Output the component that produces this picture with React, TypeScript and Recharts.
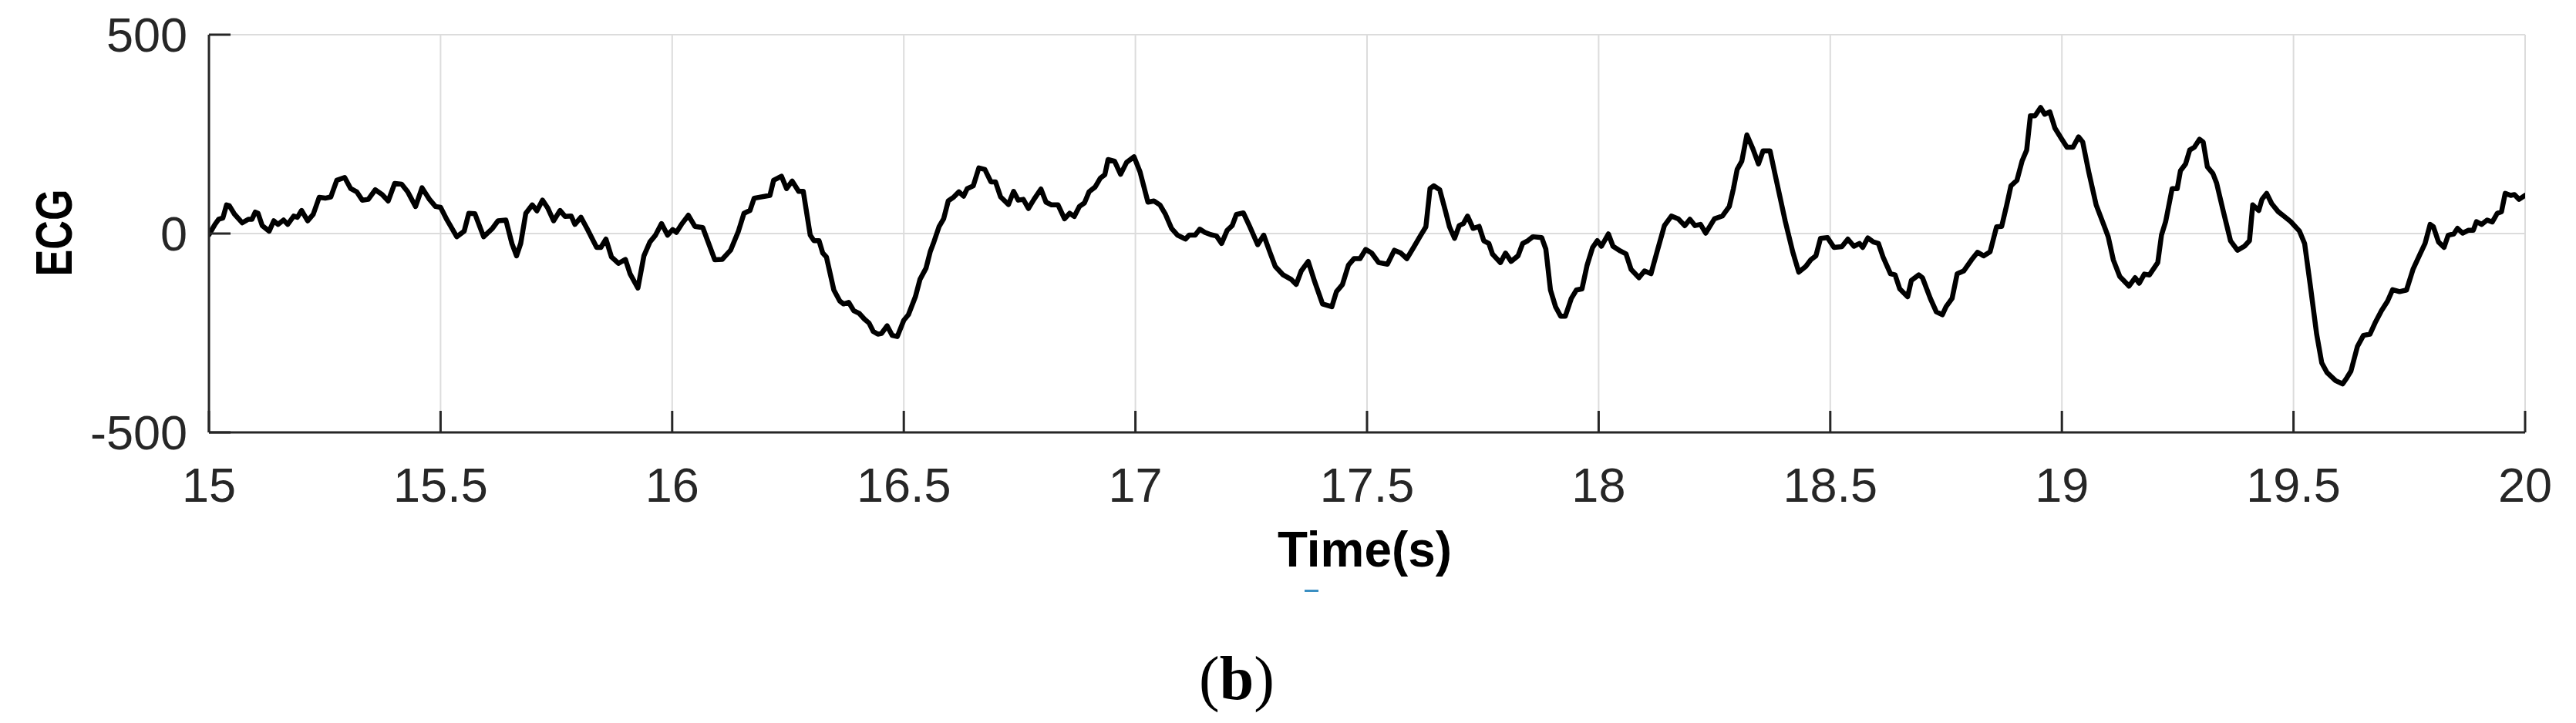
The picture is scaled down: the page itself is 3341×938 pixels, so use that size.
import React from 'react';
import { LineChart, Line, XAxis, YAxis, CartesianGrid, Label } from 'recharts';

// ---- axis / text content ----
const X_TICKS = [15, 15.5, 16, 16.5, 17, 17.5, 18, 18.5, 19, 19.5, 20];
const Y_TICKS = [-500, 0, 500];
const X_LABEL = 'Time(s)';
const Y_LABEL = 'ECG';
const PANEL_LETTER = 'b';

// ---- ECG trace: [time (s), ECG] ----
const ecg15to16: [number, number][] = [
  [15.0, -3], [15.013, 23], [15.021, 36], [15.03, 39], [15.038, 72], [15.044, 70], [15.055, 49], [15.072, 27],
  [15.085, 36], [15.093, 36], [15.1, 54], [15.106, 51], [15.115, 20], [15.13, 6], [15.14, 32], [15.149, 23],
  [15.161, 34], [15.17, 23], [15.183, 44], [15.191, 41], [15.2, 58], [15.213, 32], [15.225, 48], [15.238, 91],
  [15.251, 89], [15.263, 92], [15.276, 134], [15.293, 141], [15.306, 113], [15.319, 105], [15.331, 84], [15.344, 86],
  [15.359, 110], [15.374, 98], [15.387, 82], [15.401, 126], [15.416, 124], [15.429, 105], [15.446, 68], [15.46, 115],
  [15.476, 86], [15.489, 68], [15.5, 66], [15.514, 34], [15.535, -8], [15.551, 6], [15.561, 51], [15.574, 50],
  [15.593, -8], [15.612, 13], [15.624, 32], [15.641, 34], [15.654, -25], [15.664, -56], [15.673, -25], [15.684, 51],
  [15.698, 72], [15.708, 57], [15.72, 84], [15.731, 65], [15.744, 32], [15.758, 58], [15.769, 43], [15.782, 44],
  [15.79, 23], [15.803, 41], [15.816, 13], [15.837, -35], [15.846, -35], [15.857, -14], [15.869, -59], [15.884, -75],
  [15.899, -65], [15.909, -101], [15.926, -137], [15.939, -56], [15.952, -21], [15.964, -4], [15.977, 25], [15.99, -4],
];

const ecg16to17: [number, number][] = [
  [16.001, 10], [16.009, 3], [16.02, 23], [16.035, 46], [16.049, 18], [16.066, 15], [16.092, -66], [16.108, -65],
  [16.126, -42], [16.143, 6], [16.155, 51], [16.168, 58], [16.177, 89], [16.211, 96], [16.219, 134], [16.236, 144],
  [16.247, 113], [16.259, 132], [16.273, 106], [16.283, 106], [16.298, -4], [16.306, -18], [16.317, -18], [16.325, -49],
  [16.333, -59], [16.349, -142], [16.362, -170], [16.37, -177], [16.381, -173], [16.392, -194], [16.404, -201], [16.415, -215],
  [16.425, -225], [16.434, -246], [16.444, -253], [16.452, -251], [16.464, -232], [16.475, -256], [16.486, -259], [16.5, -218],
  [16.51, -204], [16.525, -159], [16.535, -115], [16.548, -87], [16.557, -46], [16.565, -21], [16.576, 17], [16.586, 37],
  [16.596, 82], [16.608, 92], [16.619, 105], [16.629, 94], [16.637, 113], [16.65, 120], [16.662, 165], [16.675, 161],
  [16.688, 130], [16.698, 130], [16.709, 92], [16.726, 73], [16.737, 106], [16.747, 84], [16.758, 86], [16.769, 63],
  [16.781, 86], [16.796, 112], [16.807, 79], [16.819, 72], [16.833, 72], [16.847, 37], [16.858, 51], [16.868, 43],
  [16.879, 68], [16.89, 77], [16.9, 105], [16.913, 117], [16.924, 139], [16.934, 148], [16.941, 186], [16.955, 182],
  [16.968, 149], [16.981, 179], [16.997, 193],
];

const ecg17to18: [number, number][] = [
  [17.01, 155], [17.027, 79], [17.04, 82], [17.053, 72], [17.065, 48], [17.078, 13], [17.091, -4], [17.108, -14],
  [17.116, -4], [17.129, -4], [17.139, 11], [17.15, 3], [17.163, -3], [17.175, -6], [17.186, -25], [17.198, 8],
  [17.209, 20], [17.218, 48], [17.233, 52], [17.247, 17], [17.264, -28], [17.277, -4], [17.29, -46], [17.302, -83],
  [17.319, -104], [17.336, -115], [17.347, -128], [17.358, -94], [17.373, -70], [17.387, -121], [17.404, -177], [17.424, -184],
  [17.434, -146], [17.447, -128], [17.46, -79], [17.472, -63], [17.485, -63], [17.497, -40], [17.51, -49], [17.525, -73],
  [17.544, -77], [17.559, -42], [17.573, -49], [17.586, -63], [17.602, -32], [17.614, -8], [17.627, 17], [17.636, 113],
  [17.644, 120], [17.657, 110], [17.669, 58], [17.678, 17], [17.689, -12], [17.699, 20], [17.708, 25], [17.717, 44],
  [17.729, 13], [17.742, 18], [17.752, -18], [17.763, -25], [17.771, -52], [17.788, -73], [17.799, -49], [17.811, -70],
  [17.826, -56], [17.836, -25], [17.847, -18], [17.858, -8], [17.877, -10], [17.886, -39], [17.896, -142], [17.907, -184],
  [17.918, -208], [17.928, -208], [17.941, -163], [17.952, -142], [17.964, -139], [17.975, -80], [17.987, -35], [17.997, -18],
];

const ecg18to19: [number, number][] = [
  [18.006, -32], [18.021, -1], [18.031, -32], [18.047, -44], [18.059, -51], [18.07, -90], [18.087, -111], [18.099, -94],
  [18.113, -101], [18.127, -42], [18.142, 20], [18.157, 44], [18.172, 37], [18.186, 20], [18.197, 36], [18.208, 20],
  [18.22, 23], [18.231, 1], [18.25, 37], [18.267, 44], [18.282, 68], [18.291, 113], [18.299, 161], [18.309, 182],
  [18.32, 248], [18.333, 213], [18.345, 175], [18.355, 208], [18.37, 208], [18.381, 148], [18.403, 30], [18.419, -46],
  [18.432, -97], [18.447, -83], [18.458, -66], [18.469, -56], [18.479, -12], [18.494, -10], [18.508, -35], [18.525, -33],
  [18.538, -14], [18.551, -32], [18.563, -25], [18.57, -35], [18.581, -11], [18.593, -21], [18.604, -25], [18.614, -59],
  [18.63, -101], [18.64, -104], [18.65, -139], [18.667, -159], [18.675, -118], [18.691, -104], [18.699, -111], [18.716, -163],
  [18.729, -197], [18.742, -204], [18.75, -184], [18.763, -163], [18.774, -101], [18.788, -94], [18.805, -66], [18.818, -47],
  [18.831, -56], [18.845, -46], [18.859, 17], [18.87, 18], [18.881, 72], [18.89, 120], [18.903, 134], [18.914, 182],
  [18.924, 210], [18.932, 296], [18.942, 296], [18.954, 317], [18.963, 300], [18.974, 306], [18.985, 265],
];

const ecg19to20: [number, number][] = [
  [19.0, 237], [19.011, 217], [19.024, 217], [19.036, 243], [19.045, 230], [19.058, 155], [19.074, 72], [19.091, 20],
  [19.1, -8], [19.111, -66], [19.125, -108], [19.145, -132], [19.158, -111], [19.167, -125], [19.178, -102], [19.189, -104],
  [19.207, -73], [19.215, -4], [19.224, 30], [19.238, 113], [19.249, 113], [19.256, 158], [19.267, 175], [19.276, 210],
  [19.286, 217], [19.297, 237], [19.305, 230], [19.314, 168], [19.326, 151], [19.334, 127], [19.348, 58], [19.364, -18],
  [19.379, -42], [19.394, -32], [19.405, -18], [19.412, 72], [19.425, 58], [19.432, 86], [19.442, 101], [19.453, 75],
  [19.467, 55], [19.479, 44], [19.494, 30], [19.513, 6], [19.524, -25], [19.536, -128], [19.55, -253], [19.561, -325],
  [19.572, -349], [19.591, -370], [19.606, -378], [19.615, -363], [19.624, -346], [19.638, -284], [19.651, -256], [19.665, -253],
  [19.676, -225], [19.69, -194], [19.703, -170], [19.714, -141], [19.729, -146], [19.744, -142], [19.758, -90], [19.773, -52],
  [19.784, -25], [19.795, 23], [19.802, 17], [19.813, -21], [19.825, -35], [19.834, -4], [19.846, -1], [19.854, 13],
  [19.865, 1], [19.877, 8], [19.888, 8], [19.895, 30], [19.906, 23], [19.918, 34], [19.929, 29], [19.94, 51],
  [19.949, 55], [19.957, 101], [19.969, 96], [19.977, 98], [19.987, 86], [20.0, 96],
];

const data = [...ecg15to16, ...ecg16to17, ...ecg17to18, ...ecg18to19, ...ecg19to20].map(([t, v]) => ({ t, v }));

// ---- styling ----
const W = 3325;
const H = 922;
const AXIS = '#262626';
const SANS = '"Liberation Sans", Arial, Helvetica, sans-serif';
const SERIF = '"Liberation Serif", "Times New Roman", serif';
const TICK_FONT = 63;
const TICK_LEN = 28;
const TICK_W = 3;

// MATLAB-style inward ticks: line drawn into the plot, label outside
const BottomTick = (p: any) => (
  <g>
    <line x1={p.x} y1={p.y} x2={p.x} y2={p.y - TICK_LEN} stroke={AXIS} strokeWidth={TICK_W} />
    <text x={p.x} y={p.y + 45} dy="0.71em" textAnchor="middle" fontFamily={SANS} fontSize={TICK_FONT} fill={AXIS}>
      {p.payload.value}
    </text>
  </g>
);
const TopTick = (p: any) => (
  <line x1={p.x} y1={p.y} x2={p.x} y2={p.y + TICK_LEN} stroke={AXIS} strokeWidth={TICK_W} />
);
const LeftTick = (p: any) => (
  <g>
    <line x1={p.x} y1={p.y} x2={p.x + TICK_LEN} y2={p.y} stroke={AXIS} strokeWidth={TICK_W} />
    <text x={p.x - 28} y={p.y} dy="0.355em" textAnchor="end" fontFamily={SANS} fontSize={TICK_FONT} fill={AXIS}>
      {p.payload.value}
    </text>
  </g>
);
const RightTick = (p: any) => (
  <line x1={p.x} y1={p.y} x2={p.x - TICK_LEN} y2={p.y} stroke={AXIS} strokeWidth={TICK_W} />
);

const XTitle = (props: any) => {
  const vb = props.viewBox || {};
  const cx = (vb.x ?? 263) + (vb.width ?? 3004) / 2 - 3;
  const y = (vb.y ?? 553) + 174;
  return (
    <text x={cx} y={y} textAnchor="middle" fontFamily={SANS} fontWeight="bold" fontSize={65}
      fill="#000" textLength={226} lengthAdjust="spacingAndGlyphs">{X_LABEL}</text>
  );
};

const YTitle = (props: any) => {
  const vb = props.viewBox || {};
  const cy = (vb.y ?? 37) + (vb.height ?? 516) / 2 - 1;
  const cx = 61;
  return (
    <text x={cx} y={cy} dy={24} textAnchor="middle" fontFamily={SANS} fontWeight="bold" fontSize={67}
      fill="#000" textLength={113} lengthAdjust="spacingAndGlyphs"
      transform={`rotate(-90 ${cx} ${cy})`}>{Y_LABEL}</text>
  );
};

export default function App() {
  return (
    <div style={{ position: 'relative', width: W, height: H }}>
      <LineChart width={W} height={H} data={data} margin={{ top: 37, right: 58, left: 0, bottom: 339 }}>
        <CartesianGrid stroke="#dcdcdc" strokeWidth={2} />
        <XAxis
          dataKey="t" type="number" domain={[15, 20]} allowDataOverflow ticks={X_TICKS} interval={0}
          height={30} tickSize={0} tickMargin={0} tickLine={false}
          axisLine={{ stroke: AXIS, strokeWidth: 3 }}
          tick={BottomTick}
        >
          <Label content={XTitle} />
        </XAxis>
        <XAxis
          xAxisId="top" orientation="top" type="number" domain={[15, 20]} allowDataOverflow ticks={X_TICKS}
          interval={0} height={0} tickSize={0} tickMargin={0} tickLine={false}
          axisLine={{ stroke: AXIS, strokeWidth: 3 }}
          tick={TopTick}
        />
        <YAxis
          type="number" domain={[-500, 500]} allowDataOverflow ticks={Y_TICKS} interval={0}
          width={263} tickSize={0} tickMargin={0} tickLine={false}
          axisLine={{ stroke: AXIS, strokeWidth: 3 }}
          tick={LeftTick}
        >
          <Label content={YTitle} />
        </YAxis>
        <YAxis
          yAxisId="right" orientation="right" type="number" domain={[-500, 500]} allowDataOverflow
          ticks={Y_TICKS} interval={0} width={0} tickSize={0} tickMargin={0} tickLine={false}
          axisLine={{ stroke: AXIS, strokeWidth: 3 }}
          tick={RightTick}
        />
        <Line
          type="linear" dataKey="v" stroke="#000" strokeWidth={6.5} dot={false} activeDot={false}
          strokeLinejoin="round" strokeLinecap="round" isAnimationActive={false}
        />
      </LineChart>
      <svg width={W} height={H} style={{ position: 'absolute', left: 0, top: 0, pointerEvents: 'none' }}>
        <rect x={1684} y={757} width={18} height={3} fill="#3b8fc2" />
        <text x={1547} y={899} fontFamily={SERIF} fontSize={80} fill="#000">
          (<tspan fontWeight="bold">{PANEL_LETTER}</tspan>)
        </text>
      </svg>
    </div>
  );
}
